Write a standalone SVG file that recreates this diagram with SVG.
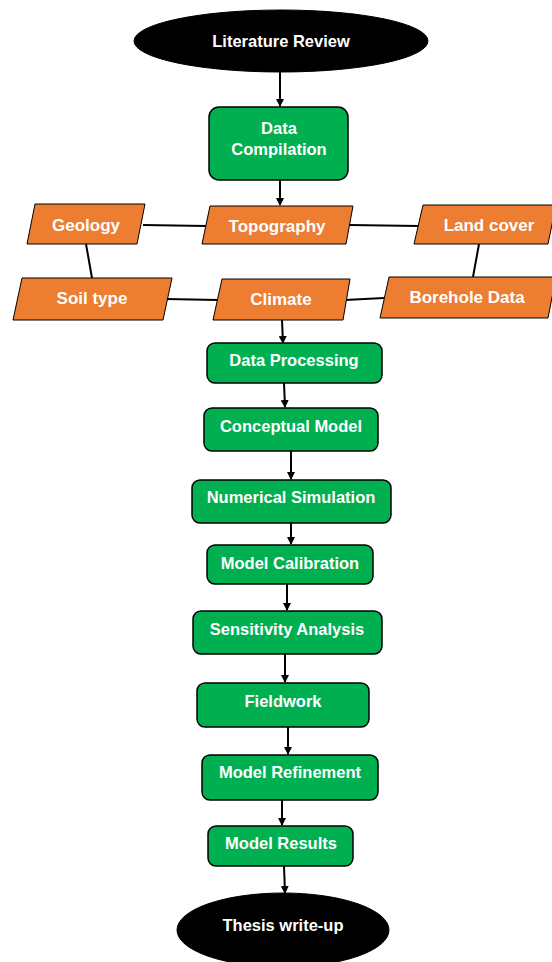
<svg xmlns="http://www.w3.org/2000/svg" width="552" height="962" viewBox="0 0 552 962">
<defs>
<marker id="ah" markerWidth="8" markerHeight="8" refX="7" refY="4" orient="auto" markerUnits="userSpaceOnUse">
<path d="M0,0 L8,4 L0,8 Z" fill="#000"/>
</marker>
<style>
.ell{fill:#000;stroke:#000;stroke-width:1}
.box{fill:#00B050;stroke:#000;stroke-width:1.5}
.par{fill:#ED7D31;stroke:#000;stroke-width:1}
.t{font-family:"Liberation Sans",Arial,sans-serif;font-weight:bold;font-size:16.5px;fill:#fff;text-anchor:middle;dominant-baseline:central}
.o{font-size:17px}
.arr{stroke:#000;stroke-width:2;fill:none;marker-end:url(#ah)}
.ln{stroke:#000;stroke-width:2;fill:none}
</style>
</defs>
<rect width="552" height="962" fill="#fff"/>
<g id="connectors">
<line class="arr" x1="280" y1="72" x2="280" y2="106"/>
<line class="arr" x1="280" y1="180" x2="280" y2="205"/>
<line class="ln" x1="143" y1="225" x2="206" y2="226"/>
<line class="ln" x1="349" y1="225" x2="419" y2="226"/>
<line class="ln" x1="86" y1="244" x2="92" y2="278"/>
<line class="ln" x1="479" y1="244" x2="473" y2="277"/>
<line class="ln" x1="166" y1="299" x2="218" y2="300"/>
<line class="ln" x1="345" y1="300" x2="384" y2="298"/>
<line class="arr" x1="282" y1="320" x2="283" y2="343"/>
<line class="arr" x1="284" y1="383" x2="285" y2="407"/>
<line class="arr" x1="291" y1="451" x2="291" y2="479"/>
<line class="arr" x1="291" y1="523" x2="291" y2="544"/>
<line class="arr" x1="287" y1="584" x2="287" y2="610"/>
<line class="arr" x1="285" y1="654" x2="285" y2="682"/>
<line class="arr" x1="288" y1="727" x2="288" y2="754"/>
<line class="arr" x1="282" y1="800" x2="282" y2="825"/>
<line class="arr" x1="284" y1="866" x2="285" y2="893"/>
</g>
<g id="literature-review">
<ellipse class="ell" cx="281" cy="41" rx="147" ry="31"/>
<text class="t" x="281" y="41">Literature Review</text>
</g>
<g id="data-compilation">
<rect class="box" x="209" y="107" width="139" height="73" rx="10"/>
<text class="t" x="279" y="128">Data</text>
<text class="t" x="279" y="149">Compilation</text>
</g>
<g id="geology">
<polygon class="par" points="35,204 145,204 137,244 27,244"/>
<text class="t o" x="86" y="225">Geology</text>
</g>
<g id="topography">
<polygon class="par" points="210,206 353,206 346,244 202,244"/>
<text class="t o" x="277" y="226">Topography</text>
</g>
<g id="land-cover">
<polygon class="par" points="423,205 556,205 548,244 414,244"/>
<text class="t o" x="489" y="225">Land cover</text>
</g>
<g id="soil-type">
<polygon class="par" points="22,278 172,278 163,320 13,320"/>
<text class="t o" x="92" y="298">Soil type</text>
</g>
<g id="climate">
<polygon class="par" points="222,279 350,279 343,320 213,320"/>
<text class="t o" x="281" y="299">Climate</text>
</g>
<g id="borehole-data">
<polygon class="par" points="389,277 556,277 548,318 380,318"/>
<text class="t o" x="467" y="297">Borehole Data</text>
</g>
<g id="data-processing">
<rect class="box" x="207" y="343" width="175" height="40" rx="8"/>
<text class="t" x="294" y="360">Data Processing</text>
</g>
<g id="conceptual-model">
<rect class="box" x="204" y="408" width="174" height="43" rx="8"/>
<text class="t" x="291" y="426">Conceptual Model</text>
</g>
<g id="numerical-simulation">
<rect class="box" x="192" y="480" width="199" height="43" rx="8"/>
<text class="t" x="291" y="497">Numerical Simulation</text>
</g>
<g id="model-calibration">
<rect class="box" x="207" y="545" width="166" height="39" rx="8"/>
<text class="t" x="290" y="563">Model Calibration</text>
</g>
<g id="sensitivity-analysis">
<rect class="box" x="193" y="611" width="189" height="43" rx="8"/>
<text class="t" x="287" y="629">Sensitivity Analysis</text>
</g>
<g id="fieldwork">
<rect class="box" x="197" y="683" width="172" height="44" rx="8"/>
<text class="t" x="283" y="701">Fieldwork</text>
</g>
<g id="model-refinement">
<rect class="box" x="202" y="755" width="176" height="45" rx="8"/>
<text class="t" x="290" y="772">Model Refinement</text>
</g>
<g id="model-results">
<rect class="box" x="208" y="826" width="145" height="40" rx="8"/>
<text class="t" x="281" y="843">Model Results</text>
</g>
<g id="thesis-write-up">
<ellipse class="ell" cx="283" cy="930" rx="106" ry="37"/>
<text class="t" x="283" y="925">Thesis write-up</text>
</g>
</svg>
